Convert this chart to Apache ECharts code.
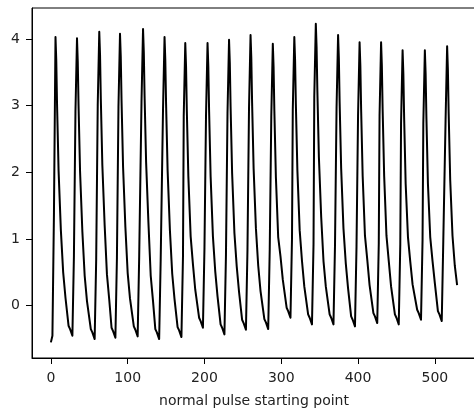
<!DOCTYPE html>
<html>
<head>
<meta charset="utf-8">
<script src="https://cdn.jsdelivr.net/npm/echarts@6/dist/echarts.min.js"></script>
<style>
  html, body { margin: 0; padding: 0; background: #fff; }
  #pulse-chart { width: 474px; height: 410px; }
</style>
</head>
<body>
<div id="pulse-chart"></div>
<script>
// sample index (x) and amplitude (y), one pulse per line
const sampleIdx = [
  0, 2, 4,
  6, 7, 8, 10, 13, 16, 19, 23, 25, 28, 30, 32,
  34, 35, 36, 38, 41, 44, 47, 52, 54, 57, 59, 61,
  63, 64, 65, 67, 70, 73, 76, 79, 81, 84, 86, 88,
  90, 91, 92, 94, 97, 100, 103, 108, 110, 113, 115, 118,
  120, 121, 122, 124, 127, 130, 133, 136, 138, 141, 143, 146,
  148, 149, 150, 152, 155, 158, 161, 165, 167, 170, 172, 173,
  175, 176, 177, 179, 182, 185, 188, 193, 195, 198, 200, 202,
  204, 205, 206, 208, 211, 214, 217, 221, 223, 226, 228, 230,
  232, 233, 234, 236, 239, 242, 245, 249, 251, 254, 256, 258,
  260, 261, 262, 264, 267, 270, 273, 278, 280, 283, 285, 287,
  289, 290, 291, 293, 296, 299, 302, 307, 309, 312, 314, 315,
  317, 318, 319, 321, 324, 327, 330, 335, 337, 340, 342, 343,
  345, 346, 347, 349, 352, 355, 358, 363, 365, 368, 370, 372,
  374, 375, 376, 378, 381, 384, 387, 391, 393, 396, 398, 400,
  402, 403, 404, 406, 409, 412, 415, 420, 422, 425, 427, 428,
  430, 431, 432, 434, 437, 440, 443, 448, 450, 453, 455, 456,
  458, 459, 460, 462, 465, 468, 471, 477, 479, 482, 484, 485,
  487, 488, 489, 491, 494, 497, 500, 504, 506, 509, 511, 514,
  516, 517, 518, 520, 523, 526, 529
];
const amplitude = [
  -0.55, -0.45, 1.4,
  4.03, 3.68, 3.03, 2.03, 1.13, 0.50, 0.12, -0.30, -0.35, -0.45, 0.75, 2.91,
  4.01, 3.66, 3.01, 2.01, 1.11, 0.45, 0.07, -0.35, -0.40, -0.50, 0.70, 3.01,
  4.11, 3.76, 3.11, 2.11, 1.21, 0.47, 0.09, -0.33, -0.38, -0.48, 0.72, 2.98,
  4.08, 3.73, 3.08, 2.08, 1.18, 0.49, 0.11, -0.31, -0.36, -0.46, 0.74, 3.05,
  4.15, 3.80, 3.15, 2.15, 1.25, 0.45, 0.07, -0.35, -0.40, -0.50, 0.70, 2.93,
  4.03, 3.68, 3.03, 2.03, 1.13, 0.48, 0.10, -0.32, -0.37, -0.47, 0.73, 2.84,
  3.94, 3.59, 2.94, 1.94, 1.04, 0.62, 0.24, -0.18, -0.23, -0.33, 0.87, 2.84,
  3.94, 3.59, 2.94, 1.94, 1.04, 0.52, 0.14, -0.28, -0.33, -0.43, 0.77, 2.89,
  3.99, 3.64, 2.99, 1.99, 1.09, 0.59, 0.21, -0.21, -0.26, -0.36, 0.84, 2.96,
  4.06, 3.71, 3.06, 2.06, 1.16, 0.60, 0.22, -0.20, -0.25, -0.35, 0.85, 2.83,
  3.93, 3.58, 2.93, 1.93, 1.03, 0.74, 0.39, -0.03, -0.08, -0.18, 1.02, 2.93,
  4.03, 3.68, 3.03, 2.03, 1.13, 0.67, 0.29, -0.13, -0.18, -0.28, 0.92, 3.13,
  4.23, 3.88, 3.23, 2.23, 1.33, 0.67, 0.29, -0.13, -0.18, -0.28, 0.92, 2.96,
  4.06, 3.71, 3.06, 2.06, 1.16, 0.64, 0.26, -0.16, -0.21, -0.31, 0.89, 2.85,
  3.95, 3.60, 2.95, 1.95, 1.05, 0.69, 0.31, -0.11, -0.16, -0.26, 0.94, 2.85,
  3.95, 3.60, 2.95, 1.95, 1.05, 0.67, 0.29, -0.13, -0.18, -0.28, 0.92, 2.73,
  3.83, 3.48, 2.83, 1.83, 1.03, 0.66, 0.32, -0.06, -0.11, -0.21, 0.99, 2.73,
  3.83, 3.48, 2.83, 1.83, 1.03, 0.67, 0.34, -0.08, -0.13, -0.23, 0.97, 2.79,
  3.89, 3.54, 2.89, 1.89, 1.05, 0.60, 0.31
];
const xTicks = [0, 100, 200, 300, 400, 500];
const yTicks = [0, 1, 2, 3, 4];

const chart = echarts.init(document.getElementById('pulse-chart'), null, { renderer: 'canvas' });

const textColor = '#222';
const fontFamily = 'DejaVu Sans';

const option = {
  animation: false,
  grid: {
    left: 32,
    right: -2,
    top: 8,
    bottom: 52,
    outerBoundsMode: 'none',
    show: true,
    borderColor: '#000',
    borderWidth: 1
  },
  xAxis: {
    type: 'value',
    min: -24.6,
    max: 553.6,
    name: 'normal pulse starting point',
    nameLocation: 'middle',
    nameGap: 36,
    nameTextStyle: { fontSize: 14, color: textColor, fontFamily: fontFamily },
    axisLine: { onZero: false, lineStyle: { color: '#000', width: 1 } },
    axisTick: { customValues: xTicks, length: 6, lineStyle: { color: '#000' } },
    axisLabel: { customValues: xTicks, margin: 13, fontSize: 14, color: textColor, fontFamily: fontFamily },
    splitLine: { show: false }
  },
  yAxis: {
    type: 'value',
    min: -0.784,
    max: 4.465,
    axisLine: { show: true, onZero: false, lineStyle: { color: '#000', width: 1 } },
    axisTick: { show: true, customValues: yTicks, length: 6, lineStyle: { color: '#000' } },
    axisLabel: { customValues: yTicks, margin: 12, fontSize: 14, color: textColor, fontFamily: fontFamily },
    splitLine: { show: false }
  },
  series: [
    {
      type: 'line',
      showSymbol: false,
      lineStyle: { color: '#000', width: 2, join: 'round' },
      data: sampleIdx.map(function (x, i) {
        return [x, amplitude[i]];
      })
    }
  ]
};

chart.setOption(option);
</script>
</body>
</html>
